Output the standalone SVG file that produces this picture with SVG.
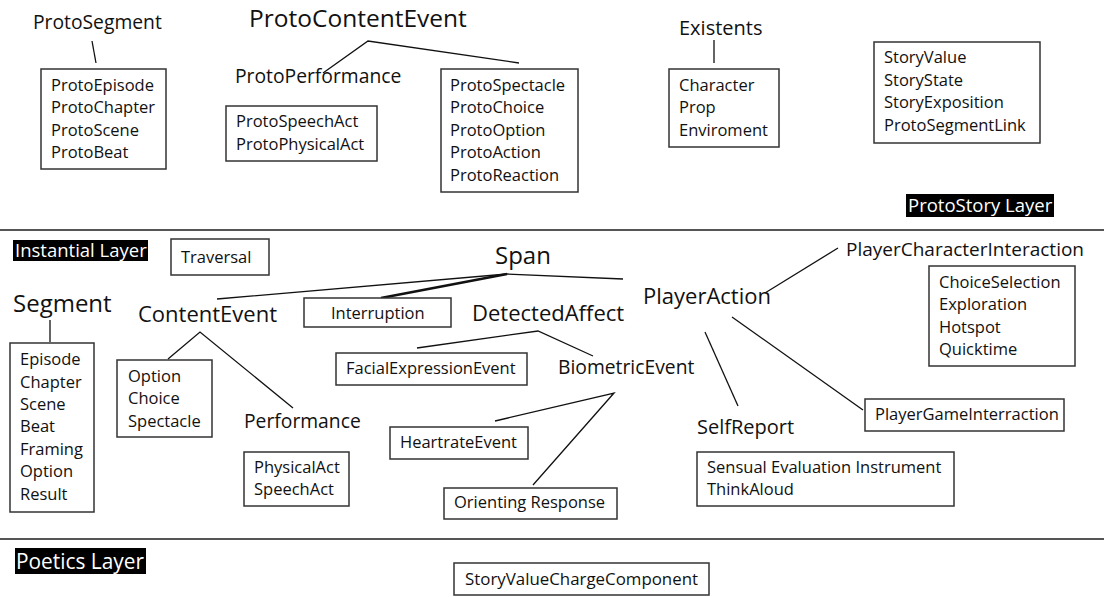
<svg xmlns="http://www.w3.org/2000/svg" width="1104" height="597" viewBox="0 0 1104 597">
  <style>
    text { font-family: "Open Sans", "Noto Sans", "Liberation Sans", sans-serif; fill: #111; }
    .box { fill: #fff; stroke: #333; stroke-width: 1.5; }
    .item { font-size: 16.5px; }
    .t19 { font-size: 19.3px; }
    .t20 { font-size: 20px; }
    .t22 { font-size: 22px; }
    .t24 { font-size: 24px; }
    .layer { fill: #000; }
    .layer-text { fill: #fff; font-size: 18.5px; }
    .sep { stroke: #555; stroke-width: 2; }
    .conn { fill: none; stroke: #111; stroke-width: 1.3; }
    .conn-bold { fill: none; stroke: #111; stroke-width: 2.6; }
  </style>

  <!-- layer separators -->
  <line class="sep" x1="0" y1="230" x2="1104" y2="230"/>
  <line class="sep" x1="0" y1="539" x2="1104" y2="539"/>

  <!-- connectors -->
  <g id="connectors">
    <line class="conn" x1="92" y1="41" x2="96" y2="63"/>
    <polyline class="conn" points="323,73 368,41 519,63"/>
    <line class="conn" x1="714" y1="40" x2="714" y2="63"/>
    <polyline class="conn" points="217,299 507,274 623,279"/>
    <line class="conn-bold" x1="507" y1="274" x2="381" y2="298"/>
    <line class="conn" x1="50" y1="320" x2="50" y2="342"/>
    <polyline class="conn" points="168,359 200,332 293,408"/>
    <polyline class="conn" points="417,348 538,331 593,356"/>
    <polyline class="conn" points="495,421 614,393 533,485"/>
    <line class="conn" x1="765" y1="293" x2="838" y2="248"/>
    <line class="conn" x1="732" y1="317" x2="863" y2="410"/>
    <line class="conn" x1="705" y1="332" x2="738" y2="406"/>
  </g>

  <!-- ProtoStory layer -->
  <g id="proto-segment">
    <text class="t19" x="33" y="29">ProtoSegment</text>
    <rect class="box" x="41" y="69" width="125" height="100"/>
    <text class="item" x="51" y="91">ProtoEpisode</text>
    <text class="item" x="51" y="113">ProtoChapter</text>
    <text class="item" x="51" y="136">ProtoScene</text>
    <text class="item" x="51" y="158">ProtoBeat</text>
  </g>

  <g id="proto-content-event">
    <text class="t24" x="249" y="27" style="font-size:24.5px">ProtoContentEvent</text>
  </g>

  <g id="proto-performance">
    <text class="t19" x="235" y="83">ProtoPerformance</text>
    <rect class="box" x="226" y="106" width="151" height="55"/>
    <text class="item" x="236" y="127">ProtoSpeechAct</text>
    <text class="item" x="236" y="150">ProtoPhysicalAct</text>
  </g>

  <g id="proto-events">
    <rect class="box" x="441" y="69" width="137" height="123"/>
    <text class="item" x="450" y="91">ProtoSpectacle</text>
    <text class="item" x="450" y="113">ProtoChoice</text>
    <text class="item" x="450" y="136">ProtoOption</text>
    <text class="item" x="450" y="158">ProtoAction</text>
    <text class="item" x="450" y="181">ProtoReaction</text>
  </g>

  <g id="existents">
    <text class="t20" x="679" y="35">Existents</text>
    <rect class="box" x="669" y="69" width="110" height="78"/>
    <text class="item" x="679" y="91">Character</text>
    <text class="item" x="679" y="113">Prop</text>
    <text class="item" x="679" y="136">Enviroment</text>
  </g>

  <g id="story-values">
    <rect class="box" x="874" y="42" width="166" height="101"/>
    <text class="item" x="884" y="63">StoryValue</text>
    <text class="item" x="884" y="86">StoryState</text>
    <text class="item" x="884" y="108">StoryExposition</text>
    <text class="item" x="884" y="131">ProtoSegmentLink</text>
  </g>

  <g id="protostory-layer-label">
    <rect class="layer" x="906" y="194" width="148" height="23"/>
    <text class="layer-text" x="908" y="212">ProtoStory Layer</text>
  </g>

  <!-- Instantial layer -->
  <g id="instantial-layer-label">
    <rect class="layer" x="13" y="240" width="135" height="21"/>
    <text class="layer-text" x="15" y="257">Instantial Layer</text>
  </g>

  <g id="traversal">
    <rect class="box" x="171" y="239" width="98" height="36"/>
    <text class="item" x="181" y="263">Traversal</text>
  </g>

  <g id="segment">
    <text class="t24" x="13" y="312">Segment</text>
    <rect class="box" x="10" y="343" width="84" height="169"/>
    <text class="item" x="20" y="365">Episode</text>
    <text class="item" x="20" y="388">Chapter</text>
    <text class="item" x="20" y="410">Scene</text>
    <text class="item" x="20" y="432">Beat</text>
    <text class="item" x="20" y="455">Framing</text>
    <text class="item" x="20" y="477">Option</text>
    <text class="item" x="20" y="500">Result</text>
  </g>

  <g id="span">
    <text class="t24" x="495" y="264">Span</text>
  </g>

  <g id="content-event">
    <text class="t22" x="138" y="322">ContentEvent</text>
  </g>

  <g id="content-kinds">
    <rect class="box" x="117" y="360" width="95" height="77"/>
    <text class="item" x="128" y="382">Option</text>
    <text class="item" x="128" y="404">Choice</text>
    <text class="item" x="128" y="427">Spectacle</text>
  </g>

  <g id="performance">
    <text class="t19" x="244" y="428">Performance</text>
    <rect class="box" x="244" y="452" width="105" height="54"/>
    <text class="item" x="254" y="473">PhysicalAct</text>
    <text class="item" x="254" y="495">SpeechAct</text>
  </g>

  <g id="interruption">
    <rect class="box" x="304" y="298" width="147" height="29"/>
    <text class="item" x="331" y="319">Interruption</text>
  </g>

  <g id="detected-affect">
    <text class="t22" x="472" y="321">DetectedAffect</text>
  </g>

  <g id="facial-expression-event">
    <rect class="box" x="336" y="353" width="191" height="32"/>
    <text class="item" x="346" y="374">FacialExpressionEvent</text>
  </g>

  <g id="biometric-event">
    <text class="t19" x="558" y="374">BiometricEvent</text>
  </g>

  <g id="heartrate-event">
    <rect class="box" x="390" y="427" width="138" height="32"/>
    <text class="item" x="400" y="448">HeartrateEvent</text>
  </g>

  <g id="orienting-response">
    <rect class="box" x="444" y="488" width="173" height="31"/>
    <text class="item" x="454" y="508">Orienting Response</text>
  </g>

  <g id="player-action">
    <text class="t22" x="643" y="304">PlayerAction</text>
  </g>

  <g id="player-character-interaction">
    <text class="t19" x="846" y="256" style="font-size:19px">PlayerCharacterInteraction</text>
    <rect class="box" x="929" y="266" width="146" height="100"/>
    <text class="item" x="939" y="288">ChoiceSelection</text>
    <text class="item" x="939" y="310">Exploration</text>
    <text class="item" x="939" y="333">Hotspot</text>
    <text class="item" x="939" y="355">Quicktime</text>
  </g>

  <g id="player-game-interraction">
    <rect class="box" x="865" y="399" width="199" height="32"/>
    <text class="item" x="875" y="420">PlayerGameInterraction</text>
  </g>

  <g id="self-report">
    <text class="t20" x="697" y="434">SelfReport</text>
    <rect class="box" x="697" y="452" width="257" height="54"/>
    <text class="item" x="707" y="473">Sensual Evaluation Instrument</text>
    <text class="item" x="707" y="495">ThinkAloud</text>
  </g>

  <!-- Poetics layer -->
  <g id="poetics-layer-label">
    <rect class="layer" x="15" y="548" width="131" height="26"/>
    <text class="layer-text" x="16" y="569" style="font-size:21px" textLength="128" lengthAdjust="spacingAndGlyphs">Poetics Layer</text>
  </g>

  <g id="story-value-charge-component">
    <rect class="box" x="454" y="563" width="255" height="32"/>
    <text class="item" x="465" y="585" textLength="233" lengthAdjust="spacingAndGlyphs">StoryValueChargeComponent</text>
  </g>
</svg>
